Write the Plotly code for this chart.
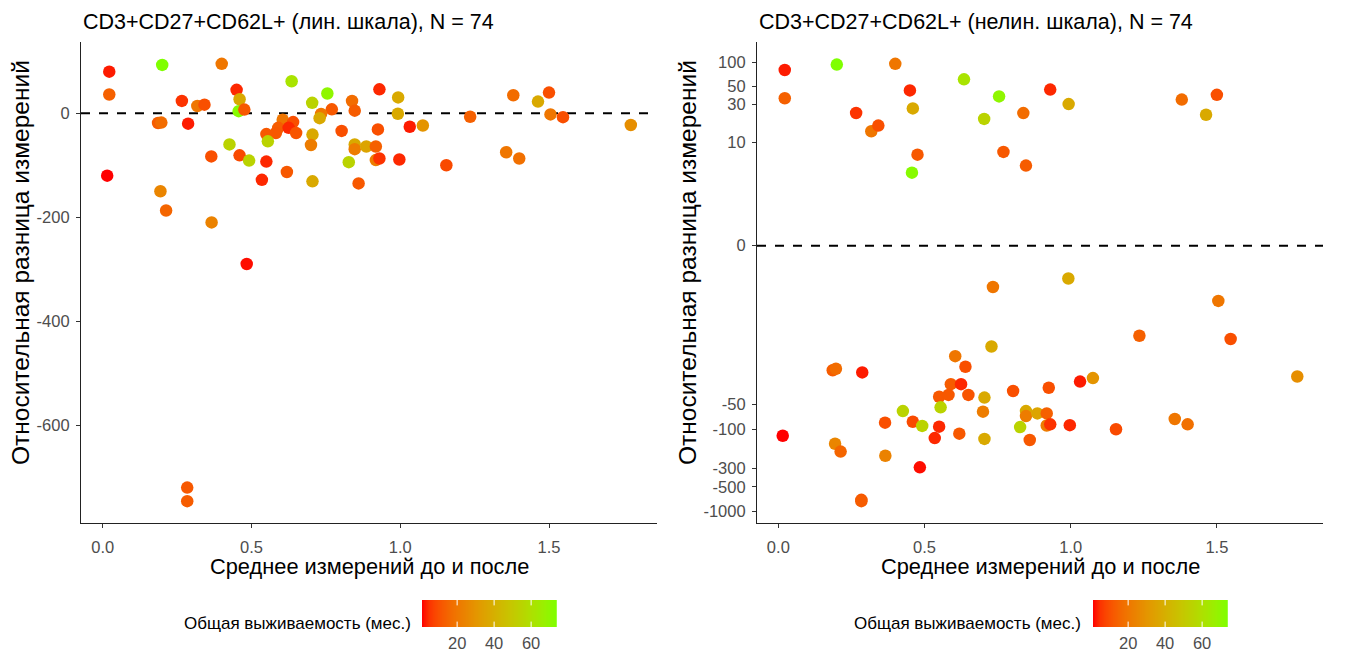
import numpy as np
import plotly.graph_objects as go

# ---------------- data ----------------
mean_vals = [
    0.022, 0.022, 0.20, 0.40, 0.45, 0.46, 0.457, 0.476, 0.266, 0.318, 0.342,
    0.635, 0.755, 0.704, 0.838, 0.93, 0.77, 0.847, 0.993, 1.38, 1.50, 1.463,
    0.734, 0.729, 0.605, 0.64, 0.186, 0.197, 0.287, 0.59, 0.625, 0.55, 0.582,
    0.65, 0.803, 0.705, 0.426, 0.555, 0.70, 0.847, 0.847, 0.886, 0.918, 0.918,
    0.93, 0.925, 0.365, 0.46, 0.492, 0.55, 0.827, 0.015, 0.535, 0.619, 0.705,
    0.86, 0.194, 0.213, 0.366, 0.484, 0.284, 0.284, 1.032, 1.076, 0.997, 1.155,
    1.235, 1.356, 1.40, 1.505, 1.547, 1.775, 0.992,
]
rel_diff = [
    80, 36, 93, 95, 45, 27, 4, 7, 23.7, 14, 16.5,
    61.5, 38, 20, 23.6, 46, 7.6, 5, 30.5, 34.7, 39.7, 22.5,
    -1.3, -9.4, -12.5, -17, -18.8, -18, -20, -28, -28, -40, -38,
    -38, -34, -41, -60, -54, -61, -60, -69, -64, -64, -90,
    -87, -31, -83, -81, -91, -93, -94, -120, -128, -113, -131,
    -135, -150, -187, -210, -290, -720, -746, -26, -23.5, -89, -100,
    -6.8, -75, -87, -2.2, -7.5, -22.5, -0.9,
]
survival = [
    3, 14, 74, 20, 4, 38, 72, 12, 5, 20, 10,
    62, 70, 55, 17, 4, 12, 13, 38, 17, 10, 38,
    20, 38, 20, 10, 13, 17, 3, 13, 4, 12, 12,
    11, 10, 38, 55, 55, 22, 38, 22, 36, 14, 22,
    5, 10, 10, 9, 55, 4, 55, 1, 4, 12, 38,
    12, 25, 15, 24, 2, 12, 13, 3, 30, 4, 9,
    14, 20, 18, 20, 10, 28, 38,
]
lin_ticks = [0, -200, -400, -600]
nonlin_ticks = [100, 50, 30, 10, 0, -50, -100, -300, -500, -1000]
x_ticks = [0.0, 0.5, 1.0, 1.5]
cbar_ticks = [20, 40, 60]

title_lin = "CD3+CD27+CD62L+ (лин. шкала), N = 74"
title_nonlin = "CD3+CD27+CD62L+ (нелин. шкала), N = 74"
x_title = "Среднее измерений до и после"
y_title = "Относительная разница измерений"
legend_title = "Общая выживаемость (мес.)"

# ---------------- helpers ----------------
W, H = 1347, 653
SIGMA = 0.6


def ptrans(v):
    v = np.asarray(v, dtype=float)
    return np.sign(v) * np.log1p(np.abs(v) / SIGMA)


def srgb_to_lab(rgb):
    c = np.array(rgb, dtype=float) / 255.0
    c = np.where(c <= 0.04045, c / 12.92, ((c + 0.055) / 1.055) ** 2.4)
    M = np.array([[0.4124, 0.3576, 0.1805], [0.2126, 0.7152, 0.0722], [0.0193, 0.1192, 0.9505]])
    xyz = M @ c
    wp = np.array([0.95047, 1.0, 1.08883])
    t = xyz / wp
    f = np.where(t > (6 / 29) ** 3, np.cbrt(t), t / (3 * (6 / 29) ** 2) + 4 / 29)
    return np.array([116 * f[1] - 16, 500 * (f[0] - f[1]), 200 * (f[1] - f[2])])


def lab_to_srgb(lab):
    L, a, b = lab
    fy = (L + 16) / 116
    fx = fy + a / 500
    fz = fy - b / 200
    f = np.array([fx, fy, fz])
    t = np.where(f > 6 / 29, f ** 3, 3 * (6 / 29) ** 2 * (f - 4 / 29))
    xyz = t * np.array([0.95047, 1.0, 1.08883])
    Minv = np.array([[3.2406, -1.5372, -0.4986], [-0.9689, 1.8758, 0.0415], [0.0557, -0.2040, 1.0570]])
    c = Minv @ xyz
    c = np.clip(c, 0, 1)
    c = np.where(c <= 0.0031308, 12.92 * c, 1.055 * c ** (1 / 2.4) - 0.055)
    c = np.clip(np.round(c * 255), 0, 255).astype(int)
    return "rgb(%d,%d,%d)" % tuple(c)


lab_lo = srgb_to_lab((255, 0, 0))
lab_hi = srgb_to_lab((127, 255, 0))
colorscale = [[s, lab_to_srgb(lab_lo + (lab_hi - lab_lo) * s)] for s in np.linspace(0, 1, 21)]


def expand(lo, hi, f=0.05):
    d = (hi - lo) * f
    return [lo - d, hi + d]


xr = expand(min(mean_vals), max(mean_vals))
yr_lin = expand(min(rel_diff), max(rel_diff))
ty = ptrans(rel_diff)
yr_nl = expand(float(ty.min()), float(ty.max()))

cmin, cmax = min(survival), max(survival)
grad = np.linspace(cmin, cmax, 300)

# panel edges in screenshot pixels
L1, R1 = 81, 657
L2, R2 = 757, 1323
TOP, BOT = 42, 523
CB1 = (422, 557)
CB2 = (1093, 1228)
CB_TOP, CB_BOT = 600, 627


def px(x):
    return x / W


def py(y):
    return 1 - y / H


FONT = "Liberation Sans, Arial, sans-serif"
TICKCOL = "#4D4D4D"

fig = go.Figure()

fig.add_trace(go.Scatter(
    x=mean_vals, y=rel_diff, mode="markers", xaxis="x", yaxis="y",
    marker=dict(size=12.5, color=survival, colorscale=colorscale, cmin=cmin, cmax=cmax,
                showscale=False, line=dict(width=0)),
    showlegend=False, hoverinfo="skip",
))
fig.add_trace(go.Scatter(
    x=mean_vals, y=ty, mode="markers", xaxis="x2", yaxis="y2",
    marker=dict(size=12.5, color=survival, colorscale=colorscale, cmin=cmin, cmax=cmax,
                showscale=False, line=dict(width=0)),
    showlegend=False, hoverinfo="skip",
))
# colour-bar legends drawn as gradient strips on their own axes
for xa, ya in (("x3", "y3"), ("x4", "y4")):
    fig.add_trace(go.Heatmap(
        x=grad, y=[0], z=[grad], xaxis=xa, yaxis=ya, colorscale=colorscale,
        zmin=cmin, zmax=cmax, showscale=False, hoverinfo="skip",
    ))

axis_common = dict(
    showgrid=False, zeroline=False, showline=True, linecolor="#222222", linewidth=1.2,
    ticks="outside", ticklen=4, tickcolor="#333333", tickwidth=1.1,
    tickfont=dict(family=FONT, size=16.5, color=TICKCOL), automargin=False,
)
cb_axis = dict(
    showgrid=False, zeroline=False, showline=False, ticks="", automargin=False,
    tickfont=dict(family=FONT, size=16.5, color=TICKCOL), fixedrange=True,
)

fig.update_layout(
    width=W, height=H, autosize=False,
    margin=dict(l=0, r=0, t=0, b=0, autoexpand=False),
    paper_bgcolor="white", plot_bgcolor="white",
    xaxis=dict(domain=[px(L1), px(R1)], range=xr, anchor="y", ticklabelstandoff=5,
               tickvals=x_ticks, ticktext=["%.1f" % v for v in x_ticks], **axis_common),
    yaxis=dict(domain=[py(BOT), py(TOP)], range=yr_lin, anchor="x", ticklabelstandoff=3,
               tickvals=lin_ticks, ticktext=[str(v) for v in lin_ticks], **axis_common),
    xaxis2=dict(domain=[px(L2), px(R2)], range=xr, anchor="y2", ticklabelstandoff=5,
                tickvals=x_ticks, ticktext=["%.1f" % v for v in x_ticks], **axis_common),
    yaxis2=dict(domain=[py(BOT), py(TOP)], range=yr_nl, anchor="x2", ticklabelstandoff=3,
                tickvals=list(ptrans(nonlin_ticks)), ticktext=[str(v) for v in nonlin_ticks],
                **axis_common),
    xaxis3=dict(domain=[px(CB1[0]), px(CB1[1])], range=[cmin, cmax], anchor="y3",
                tickvals=cbar_ticks, ticklabelstandoff=4, **cb_axis),
    yaxis3=dict(domain=[py(CB_BOT), py(CB_TOP)], range=[-0.5, 0.5], anchor="x3",
                showticklabels=False, **cb_axis),
    xaxis4=dict(domain=[px(CB2[0]), px(CB2[1])], range=[cmin, cmax], anchor="y4",
                tickvals=cbar_ticks, ticklabelstandoff=4, **cb_axis),
    yaxis4=dict(domain=[py(CB_BOT), py(CB_TOP)], range=[-0.5, 0.5], anchor="x4",
                showticklabels=False, **cb_axis),
)

# dashed zero lines
for xref, yref in (("x domain", "y"), ("x2 domain", "y2")):
    fig.add_shape(type="line", xref=xref, yref=yref, x0=0, x1=1, y0=0, y1=0,
                  line=dict(color="black", width=2, dash="dash"), layer="below")
# white tick marks on the colour strips
for xref, yref in (("x3", "y3 domain"), ("x4", "y4 domain")):
    for t in cbar_ticks:
        for y0, y1 in ((0, 0.2), (0.8, 1)):
            fig.add_shape(type="line", xref=xref, yref=yref, x0=t, x1=t, y0=y0, y1=y1,
                          line=dict(color="white", width=1))

ann = []
for left, right, title in ((L1, R1, title_lin), (L2, R2, title_nonlin)):
    ann.append(dict(text=title, x=px(left), y=py(22), xref="paper", yref="paper",
                    xanchor="left", yanchor="middle", showarrow=False,
                    font=dict(family=FONT, size=21.5, color="black")))
    ann.append(dict(text=x_title, x=px((left + right) / 2), y=py(566), xref="paper", yref="paper",
                    xanchor="center", yanchor="middle", showarrow=False,
                    font=dict(family=FONT, size=21.8, color="black")))
for xc in (20, 687):
    ann.append(dict(text=y_title, x=px(xc), y=py(263), xref="paper", yref="paper",
                    xanchor="center", yanchor="middle", showarrow=False, textangle=-90,
                    font=dict(family=FONT, size=24.5, color="black")))
for right in (413, 1083):
    ann.append(dict(text=legend_title, x=px(right), y=py(623), xref="paper", yref="paper",
                    xanchor="right", yanchor="middle", showarrow=False,
                    font=dict(family=FONT, size=17, color="black")))
fig.update_layout(annotations=ann)

fig.write_html("out.html", config={"displayModeBar": False},
               post_script="document.body.style.margin='0';")
